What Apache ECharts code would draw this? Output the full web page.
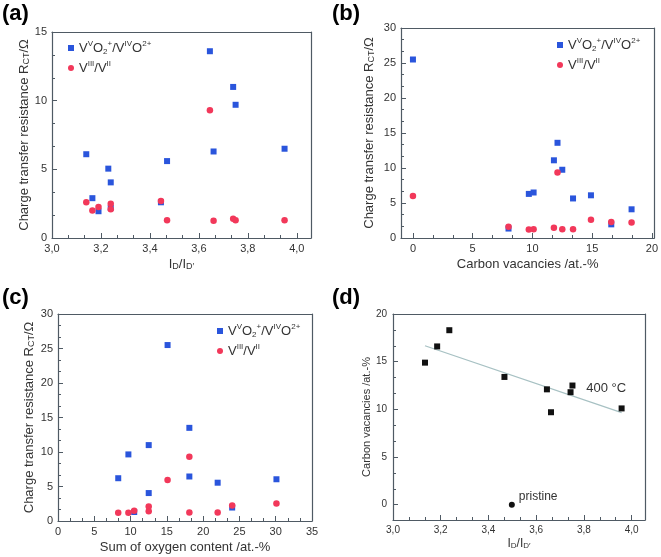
<!DOCTYPE html>
<html><head><meta charset="utf-8">
<script src="https://cdn.jsdelivr.net/npm/echarts@6/dist/echarts.min.js"></script>
<style>html,body{margin:0;padding:0;background:#fff}#c{width:661px;height:557px}</style>
</head><body><div id="c"></div>
<script>
// ---------- data ----------
const seriesNames = ['VVO2+/VIVO2+', 'VIII/VII'];

// (a) R_CT vs I_D/I_D'
const aBlueX = [3.14, 3.165, 3.19, 3.23, 3.24, 3.24, 3.445, 3.47, 3.645, 3.66, 3.74, 3.75, 3.95];
const aBlueY = [6.1, 2.9, 1.95, 5.05, 4.05, 2.2, 2.6, 5.6, 13.6, 6.3, 11.0, 9.7, 6.5];
const aRedX  = [3.14, 3.165, 3.19, 3.24, 3.24, 3.445, 3.47, 3.645, 3.66, 3.74, 3.75, 3.95];
const aRedY  = [2.6, 2.0, 2.25, 2.5, 2.1, 2.7, 1.3, 9.3, 1.25, 1.4, 1.3, 1.3];

// (b) R_CT vs carbon vacancies
const bBlueX = [0, 8, 9.7, 10.1, 11.8, 12.1, 12.5, 13.4, 14.9, 16.6, 18.3];
const bBlueY = [25.5, 1.35, 6.3, 6.5, 11.1, 13.6, 9.75, 5.65, 6.1, 1.95, 4.1];
const bRedX  = [0, 8, 9.7, 10.1, 11.8, 12.1, 12.5, 13.4, 14.9, 16.6, 18.3];
const bRedY  = [6.0, 1.6, 1.2, 1.25, 1.45, 9.35, 1.25, 1.25, 2.6, 2.3, 2.2];

// (c) R_CT vs sum of oxygen content
const cBlueX = [8.3, 9.7, 10.5, 12.5, 12.5, 15.1, 18.1, 18.1, 22.0, 24.0, 30.1];
const cBlueY = [6.2, 9.65, 1.3, 11.0, 4.05, 25.5, 13.5, 6.45, 5.55, 1.95, 6.05];
const cRedX  = [8.3, 9.7, 10.5, 12.5, 12.5, 15.1, 18.1, 18.1, 22.0, 24.0, 30.1];
const cRedY  = [1.2, 1.2, 1.5, 2.1, 1.4, 5.95, 9.3, 1.25, 1.25, 2.25, 2.55];

// (d) carbon vacancies vs I_D/I_D'
const dX = [3.134, 3.185, 3.236, 3.467, 3.645, 3.662, 3.744, 3.752, 3.958];
const dY = [14.9, 16.6, 18.3, 13.4, 12.1, 9.7, 11.8, 12.5, 10.1];
const pristineX = [3.498];
const pristineY = [0];
const fitX = [3.134, 3.958];
const fitY = [16.67, 9.65];
const tempLabelPos = [3.81, 12.2];

// tick labels
const ratioTicks = [3.0, 3.2, 3.4, 3.6, 3.8, 4.0];
const rct15Ticks = [0, 5, 10, 15];
const rct30Ticks = [0, 5, 10, 15, 20, 25, 30];
const vacTicks = [0, 5, 10, 15, 20];
const oxyTicks = [0, 5, 10, 15, 20, 25, 30, 35];
const dYTicks = [0, 5, 10, 15, 20];

// ---------- style ----------
const FONT = '"Liberation Sans", Arial, sans-serif';
const FRAME = '#4f5a64';
const TXT = '#333';
const BLUE = '#2a55dc';
const RED = '#f2385a';
const BLACK = '#111';

const zip = (xs, ys) => xs.map((x, i) => [x, ys[i]]);
const comma = v => v.toFixed(1).replace('.', ',');
const intf = v => String(Math.round(v));

function minorsOf(majors, min, max, n) {
  const step = (majors[1] - majors[0]) / n;
  const out = [];
  for (let k = -200; k <= 200; k++) {
    if (k % n === 0) continue;
    const v = +(majors[0] + k * step).toFixed(6);
    if (v > min + 1e-9 && v < max - 1e-9) out.push(v);
  }
  return out;
}

const xAxes = [], yAxes = [];
function addAxes(list, dim, grid, min, max, majors, fmt, o) {
  const pos = dim === 'x' ? 'bottom' : 'left';
  const opp = dim === 'x' ? 'top' : 'right';
  const idx = list.length;
  const line = { show: true, onZero: false, lineStyle: { color: FRAME, width: 1.2 } };
  list.push({
    type: 'value', gridIndex: grid, min, max, position: pos,
    axisLine: line, splitLine: { show: false },
    axisTick: { show: true, inside: true, length: 5, customValues: majors, lineStyle: { color: FRAME, width: 1 } },
    axisLabel: { customValues: majors, formatter: fmt, fontSize: o.fs, color: TXT, fontFamily: FONT, margin: o.margin },
    name: o.name, nameLocation: 'middle', nameGap: o.gap, nameRotate: dim === 'y' ? 90 : 0,
    nameTextStyle: { fontSize: o.nfs, color: TXT, fontFamily: FONT, rich: {
      sub: { fontSize: Math.round(o.nfs * 0.7), verticalAlign: 'bottom', lineHeight: 8, fontFamily: FONT, color: TXT } } }
  });
  list.push({
    type: 'value', gridIndex: grid, min, max, position: pos,
    axisLine: { show: false, onZero: false }, splitLine: { show: false }, axisLabel: { show: false },
    axisTick: { show: true, inside: true, length: 3, customValues: minorsOf(majors, min, max, 3), lineStyle: { color: FRAME, width: 1 } }
  });
  list.push({
    type: 'value', gridIndex: grid, min, max, position: opp,
    axisLine: line, splitLine: { show: false }, axisLabel: { show: false }, axisTick: { show: false }
  });
  return idx;
}

const grids = [
  { left: 52, top: 32, width: 259, height: 206 },
  { left: 401, top: 28, width: 254, height: 210 },
  { left: 58, top: 314, width: 254, height: 207 },
  { left: 393, top: 314, width: 252, height: 206 }
];

const yName = 'Charge transfer resistance R{sub|CT}/Ω';
const ratioName = 'I{sub|D}/I{sub|D\u2032}';

const ax = addAxes(xAxes, 'x', 0, 3.0, 4.058, ratioTicks, comma, { fs: 11, margin: 5, name: ratioName, gap: 20, nfs: 13 });
const ay = addAxes(yAxes, 'y', 0, 0, 15, rct15Ticks, intf, { fs: 11, margin: 5, name: yName, gap: 15, nfs: 13 });
const bx = addAxes(xAxes, 'x', 1, -1, 20.2, vacTicks, intf, { fs: 11, margin: 5, name: 'Carbon vacancies /at.-%', gap: 20, nfs: 13 });
const by = addAxes(yAxes, 'y', 1, 0, 30, rct30Ticks, intf, { fs: 11, margin: 5, name: yName, gap: 25, nfs: 13 });
const cx = addAxes(xAxes, 'x', 2, 0, 35, oxyTicks, intf, { fs: 11, margin: 5, name: 'Sum of oxygen content /at.-%', gap: 20, nfs: 13 });
const cy = addAxes(yAxes, 'y', 2, 0, 30, rct30Ticks, intf, { fs: 11, margin: 5, name: yName, gap: 22, nfs: 13 });
const dx = addAxes(xAxes, 'x', 3, 3.0, 4.056, ratioTicks, comma, { fs: 10, margin: 5, name: ratioName, gap: 18, nfs: 12 });
const dy = addAxes(yAxes, 'y', 3, -1.6, 20, dYTicks, intf, { fs: 10, margin: 6, name: 'Carbon vacancies /at.-%', gap: 19, nfs: 11 });

function scat(name, xi, yi, xs, ys, sym, color, size) {
  return { type: 'scatter', name, xAxisIndex: xi, yAxisIndex: yi, data: zip(xs, ys),
    symbol: sym, symbolSize: size, itemStyle: { color, opacity: 1 }, z: 3 };
}

const series = [
  scat(seriesNames[0], ax, ay, aBlueX, aBlueY, 'rect', BLUE, 6),
  scat(seriesNames[1], ax, ay, aRedX, aRedY, 'circle', RED, 6.5),
  scat(seriesNames[0], bx, by, bBlueX, bBlueY, 'rect', BLUE, 6),
  scat(seriesNames[1], bx, by, bRedX, bRedY, 'circle', RED, 6.5),
  scat(seriesNames[0], cx, cy, cBlueX, cBlueY, 'rect', BLUE, 6),
  scat(seriesNames[1], cx, cy, cRedX, cRedY, 'circle', RED, 6.5),
  { type: 'line', xAxisIndex: dx, yAxisIndex: dy, data: zip(fitX, fitY), symbol: 'none',
    lineStyle: { color: '#a7c1c3', width: 1.3 }, z: 2, silent: true },
  scat('d', dx, dy, dX, dY, 'rect', BLACK, 6),
  Object.assign(scat('pristine', dx, dy, pristineX, pristineY, 'circle', BLACK, 6), {
    label: { show: true, formatter: 'pristine', position: 'right', offset: [-1, -8], fontSize: 12, color: TXT, fontFamily: FONT } })
];

const legendRich = {
  n: { fontSize: 13, lineHeight: 16, fontFamily: FONT, color: TXT },
  sup: { fontSize: 8, lineHeight: 8, verticalAlign: 'top', fontFamily: FONT, color: TXT },
  sub: { fontSize: 8, lineHeight: 8, verticalAlign: 'bottom', fontFamily: FONT, color: TXT }
};
const legendFmt = n => n === seriesNames[0]
  ? '{n|V}{sup|V}{n|O}{sub|2}{sup|+}{n|/V}{sup|IV}{n|O}{sup|2+}'
  : '{n|V}{sup|III}{n|/V}{sup|II}';
function legendAt(left, top) {
  return { left, top, orient: 'vertical', itemWidth: 6, itemHeight: 6, itemGap: 4, selectedMode: false,
    data: [{ name: seriesNames[0], icon: 'rect' }, { name: seriesNames[1], icon: 'circle' }],
    formatter: legendFmt, textStyle: { fontSize: 13, fontFamily: FONT, color: TXT, rich: legendRich } };
}

const panelLabel = (t, x, y) => ({ type: 'text', left: x, top: y,
  style: { text: t, fontSize: 22, fontWeight: 'bold', fontFamily: FONT, fill: '#000' } });
const panelLabels = [panelLabel('(a)', 2, 3), panelLabel('(b)', 332, 3), panelLabel('(c)', 2, 287), panelLabel('(d)', 332, 287)];

const chart = echarts.init(document.getElementById('c'), null, { renderer: 'canvas' });
chart.setOption({
  animation: false,
  backgroundColor: '#fff',
  grid: grids,
  xAxis: xAxes,
  yAxis: yAxes,
  legend: [legendAt(63, 35), legendAt(552, 32), legendAt(212, 318)],
  series,
  graphic: panelLabels
});
const p = chart.convertToPixel({ xAxisIndex: dx, yAxisIndex: dy }, tempLabelPos);
chart.setOption({ graphic: panelLabels.concat([
  { type: 'text', x: p[0], y: p[1], style: { text: '400 °C', fontSize: 13, fontFamily: FONT, fill: TXT, verticalAlign: 'middle' } }]) });
</script></body></html>
